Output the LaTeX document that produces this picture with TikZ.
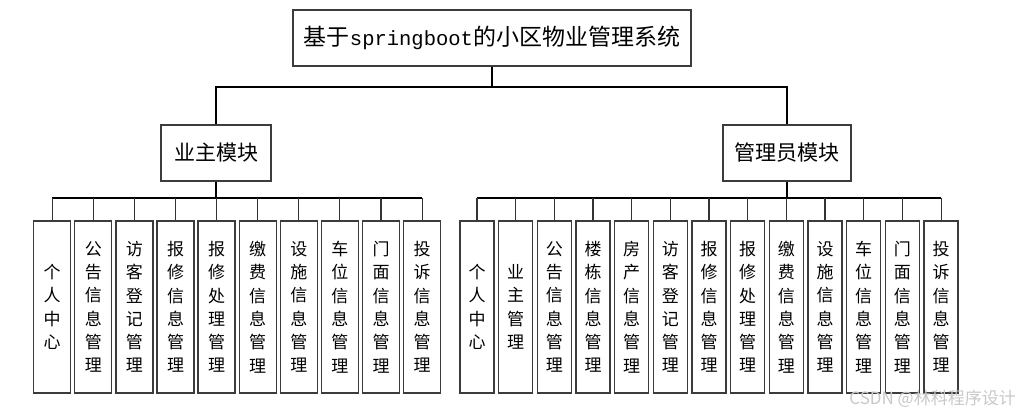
\documentclass[tikz,border=0pt]{standalone}
\usepackage{fontspec}
\newfontfamily\cjk{Noto Sans CJK SC}
\newfontfamily\latmono{Liberation Mono}
\definecolor{boxline}{HTML}{3C3C3C}
\definecolor{wm}{HTML}{C8C8C8}
\tikzset{
  box/.style={draw=boxline, line width=1.3pt, fill=white, inner sep=0pt, align=center},
  titlebox/.style={box, minimum width=398pt, minimum height=56pt, font={\cjk\fontsize{23}{27}\selectfont}},
  modbox/.style={box, minimum height=56pt, font={\cjk\fontsize{21}{25}\selectfont}},
  leafL/.style={box, minimum width=37pt, minimum height=172pt, font={\cjk\fontsize{17}{23.3}\selectfont}},
  leafR/.style={box, minimum width=34pt, minimum height=172pt, font={\cjk\fontsize{17}{23.3}\selectfont}},
  mainline/.style={line width=2pt, black},
  subline/.style={line width=1.1pt, black!80},
}
\begin{document}
\begin{tikzpicture}[x=1pt,y=-1pt]
\useasboundingbox (0,0) rectangle (1019,417);
% top
\node[titlebox] (top) at (492,38) {\cjk 基于{\latmono\fontsize{20.5}{24}\selectfont springboot}的小区物业管理系统};
% modules
\node[modbox, minimum width=110pt] (m1) at (216,153) {业主模块};
\node[modbox, minimum width=128pt] (m2) at (787,153) {管理员模块};
\coordinate (bus0) at (492,87);
\draw[mainline] (top.south) -- (bus0);
\draw[mainline] (m1.north) |- (bus0) -| (m2.north);
% left leaves
\foreach \i/\t in {1/个\\人\\中\\心, 2/公\\告\\信\\息\\管\\理, 3/访\\客\\登\\记\\管\\理, 4/报\\修\\信\\息\\管\\理, 5/报\\修\\处\\理\\管\\理, 6/缴\\费\\信\\息\\管\\理, 7/设\\施\\信\\息\\管\\理, 8/车\\位\\信\\息\\管\\理, 9/门\\面\\信\\息\\管\\理, 10/投\\诉\\信\\息\\管\\理}{
  \node[leafL] (l\i) at ({52.2+41.1*(\i-1)},307) {\t};
}
% right leaves
\foreach \i/\t in {1/个\\人\\中\\心, 2/业\\主\\管\\理, 3/公\\告\\信\\息\\管\\理, 4/楼\\栋\\信\\息\\管\\理, 5/房\\产\\信\\息\\管\\理, 6/访\\客\\登\\记\\管\\理, 7/报\\修\\信\\息\\管\\理, 8/报\\修\\处\\理\\管\\理, 9/缴\\费\\信\\息\\管\\理, 10/设\\施\\信\\息\\管\\理, 11/车\\位\\信\\息\\管\\理, 12/门\\面\\信\\息\\管\\理, 13/投\\诉\\信\\息\\管\\理}{
  \node[leafR] (r\i) at ({477+38.67*(\i-1)},307) {\t};
}
% left bus
\coordinate (busL) at (216,198);
\draw[mainline] (m1.south) -- (busL);
\draw[mainline] (l1.north |- busL) -- (l10.north |- busL);
\foreach \i in {1,...,10}{ \draw[subline] (l\i.north) -- (l\i.north |- busL); }
% right bus
\coordinate (busR) at (787,198);
\draw[mainline] (m2.south) -- (busR);
\draw[mainline] (r1.north |- busR) -- (r13.north |- busR);
\foreach \i in {1,...,13}{ \draw[subline] (r\i.north) -- (r\i.north |- busR); }
% watermark
\node[anchor=east, text=wm, inner sep=0pt, font={\cjk\fontsize{17}{20}\selectfont}] (wmk) at (1016,399) {CSDN @林科程序设计};
\end{tikzpicture}
\end{document}
